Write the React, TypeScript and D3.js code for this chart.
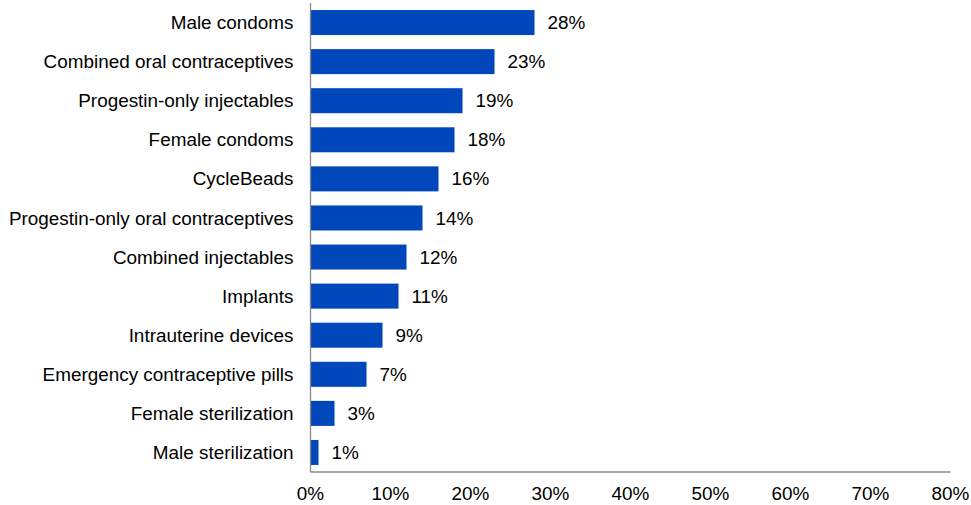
import React from "react";
import * as d3 from "d3";

const categories = [
  "Male condoms",
  "Combined oral contraceptives",
  "Progestin-only injectables",
  "Female condoms",
  "CycleBeads",
  "Progestin-only oral contraceptives",
  "Combined injectables",
  "Implants",
  "Intrauterine devices",
  "Emergency contraceptive pills",
  "Female sterilization",
  "Male sterilization",
];
const values = [28, 23, 19, 18, 16, 14, 12, 11, 9, 7, 3, 1];
const xTicks = [0, 10, 20, 30, 40, 50, 60, 70, 80];

const W = 971;
const H = 505;
const left = 310.5;
const right = 950.5;
const top = 3;
const bottom = 472;
const font = "'Liberation Sans', Arial, sans-serif";
const fs = 18.9;

export default function App() {
  const x = d3.scaleLinear().domain([0, 80]).range([left, right]);
  const y = d3.scaleBand<string>().domain(categories).range([top, bottom]).paddingInner(0.36).paddingOuter(0.18);
  return (
    <svg width={W} height={H} style={{ position: "absolute", left: 0, top: 0 }} fontFamily={font}>
      <rect width={W} height={H} fill="#fff" />
      {categories.map((c, i) => {
        const yy = y(c)!;
        const bw = y.bandwidth();
        return (
          <g key={c}>
            <rect x={x(0)} y={yy} width={x(values[i]) - x(0)} height={bw} fill="#0047BB" />
            <text x={left - 17} y={yy + bw / 2} dy="0.35em" textAnchor="end" fontSize={fs} fill="#000">
              {c}
            </text>
            <text x={x(values[i]) + 13} y={yy + bw / 2} dy="0.35em" textAnchor="start" fontSize={fs} fill="#000">
              {values[i] + "%"}
            </text>
          </g>
        );
      })}
      <line x1={left} x2={left} y1={top} y2={bottom} stroke="#898989" strokeWidth={1.3} />
      <line x1={left} x2={right} y1={bottom} y2={bottom} stroke="#898989" strokeWidth={1.3} />
      {xTicks.map((t) => (
        <text key={t} x={x(t)} y={499.5} textAnchor="middle" fontSize={fs} fill="#000">
          {t + "%"}
        </text>
      ))}
    </svg>
  );
}
